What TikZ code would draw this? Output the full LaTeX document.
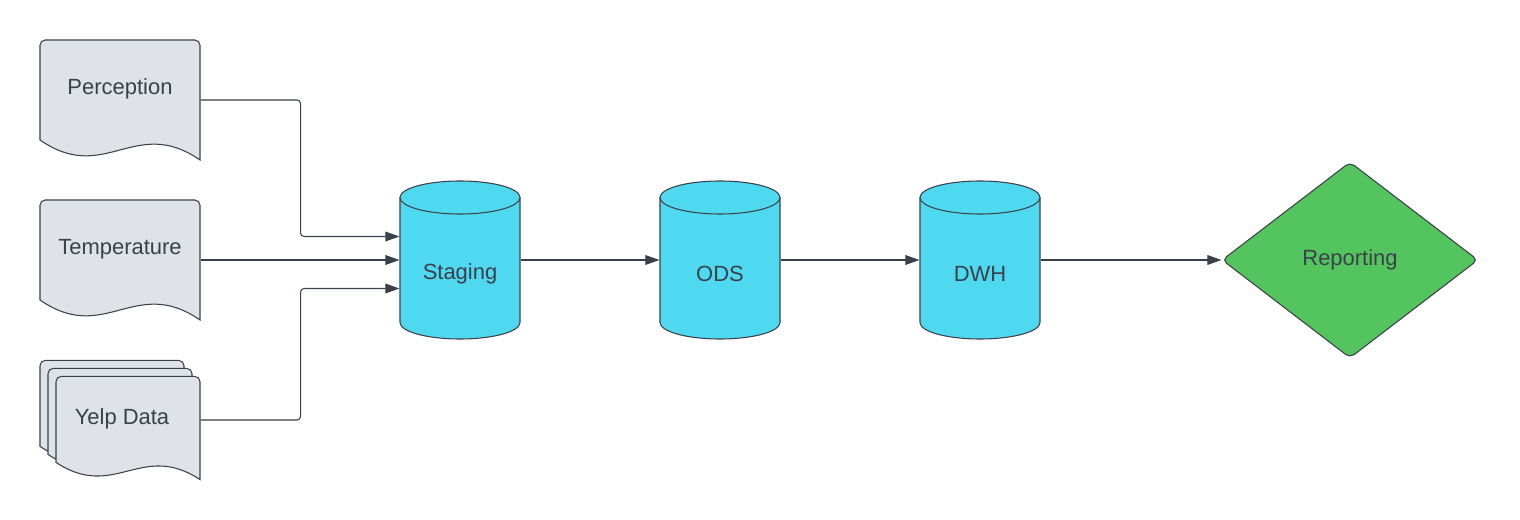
\documentclass[tikz,border=0pt]{standalone}
\usepackage{fontspec}
\setmainfont{Liberation Sans}
\usetikzlibrary{arrows.meta,shapes.geometric}
\definecolor{ink}{HTML}{3A414A}
\definecolor{paper}{HTML}{DFE3E8}
\definecolor{dbcyan}{HTML}{4FD9F0}
\definecolor{repgreen}{HTML}{54C45E}

\begin{document}
\begin{tikzpicture}[
  >={Triangle[length=8pt,width=5.5pt]},
  line width=0.6pt,
  outline/.style={draw=ink},
  txt/.style={text=ink,font=\fontsize{12.5}{15}\selectfont},
  box/.style={inner sep=0pt,minimum width=3.2cm,minimum height=2.4cm},
  dbbox/.style={inner sep=0pt,minimum width=2.4cm,minimum height=2.5cm},
  decision/.style={diamond,outline,fill=repgreen,txt,inner sep=0pt,
    minimum width=5.12cm,minimum height=3.92cm,rounded corners=3pt},
  link/.style={draw=ink,->,rounded corners=2pt},
  doc/.pic={
    \draw[outline,fill=paper] (1.6,-1.2) .. controls (0.3,-0.3) and (-0.3,-1.7) .. (-1.6,-0.8)
      [rounded corners=3pt] -- (-1.6,1.2) -- (1.6,1.2) [sharp corners] -- cycle;
  },
  db/.pic={
    \draw[outline,fill=dbcyan] (-1.2,1.25) -- (-1.2,-1.25)
      arc[start angle=180,end angle=360,x radius=1.2,y radius=0.33] -- (1.2,1.25);
    \draw[outline,fill=dbcyan] (0,1.25) ellipse[x radius=1.2,y radius=0.33];
  },
  ]
  \useasboundingbox (0,0) rectangle (30.4,-10.4);

  % source files
  \pic at (2.4,-2.0) {doc};
  \pic at (2.4,-5.2) {doc};
  \pic[xscale=0.9,yscale=0.86] at (2.24,-8.24) {doc};
  \pic[xscale=0.9,yscale=0.86] at (2.4,-8.4) {doc};
  \pic[xscale=0.9,yscale=0.86] at (2.56,-8.56) {doc};
  \node[box,label={[txt,yshift=0.22cm]center:Perception}] (perc) at (2.4,-2.0) {};
  \node[box,label={[txt,yshift=0.22cm]center:Temperature}] (temp) at (2.4,-5.2) {};
  \node[box,label={[txt,xshift=0.04cm,yshift=0.03cm]center:Yelp Data}] (yelp) at (2.4,-8.4) {};

  % storage layers
  \pic at (9.2,-5.2) {db};
  \pic at (14.4,-5.2) {db};
  \pic at (19.6,-5.2) {db};
  \node[dbbox,label={[txt,yshift=-0.28cm]center:Staging}] (stg) at (9.2,-5.2) {};
  \node[dbbox,label={[txt,yshift=-0.28cm]center:ODS}] (ods) at (14.4,-5.2) {};
  \node[dbbox,label={[txt,yshift=-0.28cm]center:DWH}] (dwh) at (19.6,-5.2) {};

  \node[decision] (rep) at (27.0,-5.2) {Reporting};

  \draw[link] (perc.east) -- ++(2,0) |- ([yshift=0.47cm]stg.west);
  \draw[link] (temp.east) -- (stg.west);
  \draw[link] (yelp.east) -- ++(2,0) |- ([yshift=-0.57cm]stg.west);
  \draw[link] (stg.east) -- (ods.west);
  \draw[link] (ods.east) -- (dwh.west);
  \draw[link] (dwh.east) -- (rep.west);
\end{tikzpicture}
\end{document}
